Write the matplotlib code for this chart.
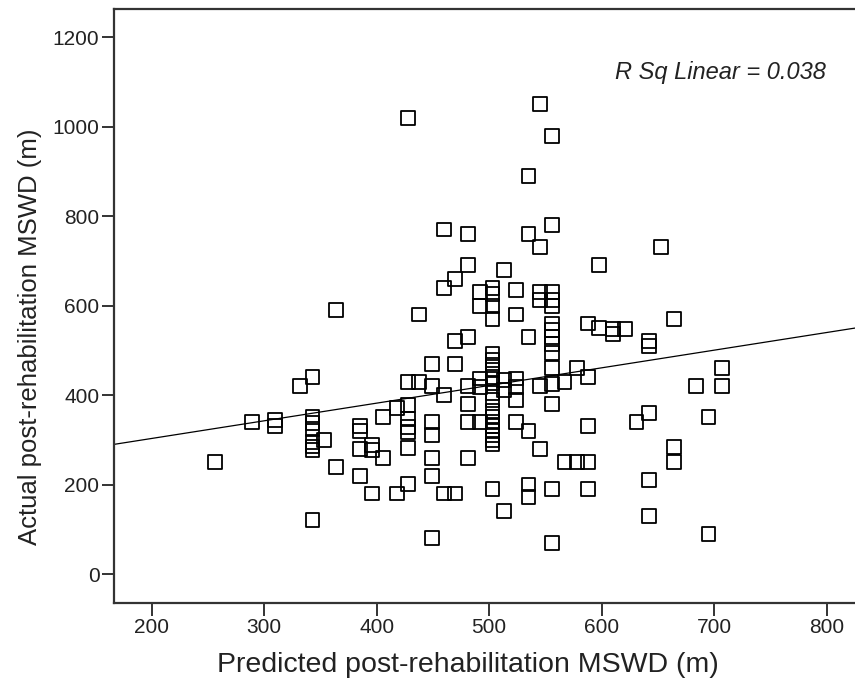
import numpy as np
import matplotlib.pyplot as plt

plt.rcParams['font.family'] = ['Liberation Sans', 'DejaVu Sans']

# predicted MSWD (x) and actual MSWD (y)
predicted = (
    [256, 289, 310, 310, 332]
    + [343] * 8 + [353] + [364] * 2 + [385] * 4 + [396] * 3 + [406] * 2 + [418] * 2
    + [428] * 8 + [438] * 2 + [449] * 7 + [460] * 4 + [470] * 4 + [481] * 7 + [492] * 5
    + [503] * 21 + [513] * 4 + [524] * 6 + [535] * 6 + [545] * 6 + [556] * 15
    + [567] * 2 + [578] * 2 + [588] * 5 + [598] * 2 + [610] * 2 + [621] + [631]
    + [642] * 5 + [653] + [664] * 3 + [684] + [695] * 2 + [707] * 2
)
actual = (
    [250, 340, 345, 330, 420]
    + [440, 350, 338, 325, 295, 285, 278, 120]
    + [300]
    + [590, 240]
    + [330, 320, 280, 220]
    + [288, 277, 180]
    + [350, 260]
    + [372, 180]
    + [1020, 430, 378, 347, 329, 318, 281, 202]
    + [580, 430]
    + [470, 420, 340, 310, 260, 220, 80]
    + [770, 640, 400, 180]
    + [660, 520, 470, 180]
    + [760, 690, 530, 420, 380, 340, 260]
    + [630, 600, 437, 419, 340]
    + [640, 625, 600, 570, 493, 478, 467, 456, 441, 426, 404, 389,
       365, 352, 340, 330, 320, 310, 300, 290, 190]
    + [680, 434, 411, 140]
    + [635, 580, 437, 419, 389, 340]
    + [890, 760, 530, 320, 200, 172]
    + [1050, 730, 630, 612, 420, 280]
    + [980, 780, 630, 612, 600, 560, 545, 530, 515, 495, 460, 425, 381, 190, 70]
    + [430, 250]
    + [460, 250]
    + [560, 440, 330, 250, 190]
    + [690, 550]
    + [548, 537]
    + [548]
    + [340]
    + [520, 510, 360, 210, 130]
    + [730]
    + [570, 283, 250]
    + [420]
    + [350, 90]
    + [460, 420]
)

x_ticks = [200, 300, 400, 500, 600, 700, 800]
y_ticks = [0, 200, 400, 600, 800, 1000, 1200]
r_sq_text = "R Sq Linear = 0.038"

W, H = 855, 697
fig = plt.figure(figsize=(W / 100, H / 100), dpi=100)
ax = fig.add_axes([114 / W, (H - 603) / H, (W - 114) / W, 594 / H])

ax.scatter(predicted, actual, marker='s', s=100, facecolors='none',
           edgecolors='black', linewidths=1.3, zorder=3)

ax.set_xlim(166.5, 825.2)
ax.set_ylim(-64.8, 1263)

slope, intercept = np.polyfit(predicted, actual, 1)
xs = np.array(ax.get_xlim())
ax.plot(xs, intercept + slope * xs, color='black', linewidth=0.9, zorder=2)

ax.set_xticks(x_ticks)
ax.set_yticks(y_ticks)
ax.tick_params(direction='out', length=9, width=1.4, color='#333333',
               labelsize=15, labelcolor='#222222', pad=1.5)
for side in ['left', 'bottom', 'top']:
    ax.spines[side].set_linewidth(1.6)
    ax.spines[side].set_color('#333333')
ax.spines['right'].set_visible(False)

fig.text(826 / W, 1 - 73 / H, r_sq_text, ha='right', va='center',
         fontsize=17, style='italic', color='#222222')

fig.text(468 / W, 1 - 665 / H, "Predicted post-rehabilitation MSWD (m)",
         ha='center', va='center', fontsize=20.5, color='#222222')
fig.text(30 / W, 1 - 545 / H, "Actual post-rehabilitation MSWD (m)",
         ha='center', va='bottom', rotation=90, fontsize=18.5, color='#222222')

fig.savefig('out.png', dpi=100)
